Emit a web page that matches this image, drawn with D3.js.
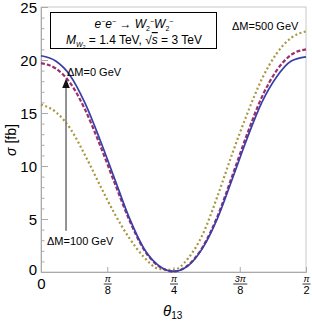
<!DOCTYPE html>
<html>
<head>
<meta charset="utf-8">
<script src="https://cdn.jsdelivr.net/npm/d3@7"></script>
<style>
  body { margin: 0; background: #fff; }
  svg { font-family: "Liberation Sans", Arial, sans-serif; }
</style>
</head>
<body>
<svg id="chart" width="312" height="325"></svg>
<script>
// theta_13 in degrees, cross section in fb
const thetaDeg = [0, 5, 10, 15, 20, 25, 30, 35, 40, 45, 50, 55, 60, 65, 70, 75, 80, 85, 90];
const sigmaDM0 = [20.4, 19.9, 18.5, 15.9, 12.5, 8.8, 5.1, 2.2, 0.6, 0.05, 0.6, 2.3, 5.1, 8.8, 12.6, 16.0, 18.4, 19.9, 20.3];
const sigmaDM100 = [19.7, 19.2, 17.8, 15.3, 12.0, 8.4, 4.9, 2.1, 0.55, 0.05, 0.65, 2.4, 5.3, 9.1, 13.0, 16.5, 19.0, 20.5, 21.0];
const sigmaDM500 = [15.8, 15.1, 13.5, 11.0, 8.2, 5.5, 3.2, 1.4, 0.3, 0.2, 1.3, 3.6, 7.2, 11.2, 14.9, 18.2, 20.6, 22.1, 22.7];
const xTicks = [0, 22.5, 45, 67.5, 90];
const xTickNum = ["0", "π", "π", "3π", "π"];
const xTickDen = ["", "8", "4", "8", "2"];
const yTicks = [0, 5, 10, 15, 20, 25];

const svg = d3.select("#chart");
const plotL = 41, plotR = 306, plotT = 7, plotB = 272;

const x = d3.scaleLinear().domain([0, 90]).range([plotL, plotR]);
const y = d3.scaleLinear().domain([0, 25]).range([plotB, plotT]);

// frame
svg.append("rect")
  .attr("x", plotL).attr("y", plotT)
  .attr("width", plotR - plotL).attr("height", plotB - plotT)
  .attr("fill", "none").attr("stroke", "#c8c8c8").attr("stroke-width", 1);

// y axis, major + minor ticks pointing inward
const minorY = d3.range(0, 26).filter(v => v % 5 !== 0);
svg.append("g")
  .attr("transform", "translate(" + plotL + ",0)")
  .call(d3.axisLeft(y).tickValues(minorY).tickSize(-3.5).tickFormat(""))
  .call(g => g.select(".domain").remove())
  .selectAll("line").attr("stroke", "#aaa");

const yAxis = svg.append("g")
  .attr("transform", "translate(" + plotL + ",0)")
  .call(d3.axisLeft(y).tickValues(yTicks).tickSize(-7).tickPadding(4));
yAxis.select(".domain").attr("stroke", "#aaa");
yAxis.selectAll("line").attr("stroke", "#aaa");
yAxis.selectAll("text")
  .attr("font-size", 15).attr("fill", "#000")
  .attr("font-family", "Liberation Sans, Arial, sans-serif")
  .attr("x", -4)
  .attr("dy", d => d === 0 ? "0.15em" : "0.35em");

// x axis with fraction labels
const xAxis = svg.append("g")
  .attr("transform", "translate(0," + plotB + ")")
  .call(d3.axisBottom(x).tickValues(xTicks).tickSize(-5).tickFormat(""));
xAxis.select(".domain").attr("stroke", "#aaa");
xAxis.selectAll("line").attr("stroke", "#aaa");
xAxis.selectAll(".tick").each(function(d, i) {
  const g = d3.select(this);
  if (i === 0) {
    g.append("text").attr("y", 17).attr("text-anchor", "middle")
      .attr("font-size", 15).attr("fill", "#000").text("0");
    return;
  }
  g.append("text").attr("y", 10).attr("text-anchor", "middle")
    .attr("font-size", 9).attr("fill", "#000").attr("font-style", "italic")
    .text(xTickNum[i]);
  const w = xTickNum[i].length > 1 ? 7 : 4;
  g.append("line").attr("x1", -w).attr("x2", w).attr("y1", 12).attr("y2", 12)
    .attr("stroke", "#000").attr("stroke-width", 0.8);
  g.append("text").attr("y", 22).attr("text-anchor", "middle")
    .attr("font-size", 11).attr("fill", "#000").text(xTickDen[i]);
});

// curves
const line = d3.line().curve(d3.curveMonotoneX);
const series = [
  { vals: sigmaDM500, color: "#a8973f", dash: "2,2.5", width: 2.2 },
  { vals: sigmaDM100, color: "#9b2f6c", dash: "4,2", width: 2.2 },
  { vals: sigmaDM0, color: "#3a3fa6", dash: null, width: 1.7 }
];
series.forEach(s => {
  svg.append("path")
    .attr("d", line(thetaDeg.map((t, i) => [x(t), y(s.vals[i])])))
    .attr("fill", "none")
    .attr("stroke", s.color)
    .attr("stroke-width", s.width)
    .attr("stroke-dasharray", s.dash);
});

// legend box
svg.append("rect")
  .attr("x", 50.5).attr("y", 12.5).attr("width", 166).attr("height", 36)
  .attr("fill", "#fff").attr("stroke", "#000").attr("stroke-width", 1);
const t1 = svg.append("text").attr("x", 134).attr("y", 28)
  .attr("text-anchor", "middle").attr("font-size", 12);
t1.append("tspan").attr("font-style", "italic").text("e");
t1.append("tspan").attr("font-size", 7).attr("dy", -4).text("−");
t1.append("tspan").attr("font-style", "italic").attr("dy", 4).text("e");
t1.append("tspan").attr("font-size", 7).attr("dy", -4).text("−");
t1.append("tspan").attr("dy", 4).text(" → ");
t1.append("tspan").attr("font-style", "italic").text("W");
t1.append("tspan").attr("font-size", 7).attr("dy", 3).text("2");
t1.append("tspan").attr("font-size", 7).attr("dy", -7).text("−");
t1.append("tspan").attr("font-style", "italic").attr("dy", 4).text("W");
t1.append("tspan").attr("font-size", 7).attr("dy", 3).text("2");
t1.append("tspan").attr("font-size", 7).attr("dy", -7).text("−");

const t2 = svg.append("text").attr("x", 134).attr("y", 44)
  .attr("text-anchor", "middle").attr("font-size", 12);
t2.append("tspan").attr("font-style", "italic").text("M");
t2.append("tspan").attr("font-size", 7).attr("font-style", "italic").attr("dy", 3).text("W");
t2.append("tspan").attr("font-size", 5).attr("dy", 1.5).text("2");
t2.append("tspan").attr("dy", -4.5).text(" = 1.4 TeV, √");
t2.append("tspan").attr("font-style", "italic").attr("text-decoration", "overline").text("s");
t2.append("tspan").text(" = 3 TeV");

// annotations
svg.append("text").attr("x", 67).attr("y", 76).attr("font-size", 11).text("ΔM=0 GeV");
svg.append("text").attr("x", 232).attr("y", 30).attr("font-size", 11).text("ΔM=500 GeV");
svg.append("text").attr("x", 47).attr("y", 245).attr("font-size", 11).text("ΔM=100 GeV");

// arrow
svg.append("defs").append("marker")
  .attr("id", "head").attr("viewBox", "0 0 10 10")
  .attr("refX", 5).attr("refY", 5)
  .attr("markerWidth", 6).attr("markerHeight", 6)
  .attr("orient", "auto")
  .append("path").attr("d", "M0,1 L10,5 L0,9 Z").attr("fill", "#111");
svg.append("line")
  .attr("x1", x(8.5)).attr("x2", x(8.5))
  .attr("y1", y(3.9)).attr("y2", y(17.8))
  .attr("stroke", "#777").attr("stroke-width", 1.6)
  .attr("marker-end", "url(#head)");

// axis titles
const yl = svg.append("text")
  .attr("transform", "translate(16,140) rotate(-90)")
  .attr("text-anchor", "middle").attr("font-size", 14);
yl.append("tspan").attr("font-style", "italic").text("σ");
yl.append("tspan").text(" [fb]");

const xl = svg.append("text").attr("x", 163).attr("y", 316).attr("font-size", 15);
xl.append("tspan").attr("font-style", "italic").text("θ");
xl.append("tspan").attr("font-size", 10).attr("dy", 3).text("13");
</script>
</body>
</html>
